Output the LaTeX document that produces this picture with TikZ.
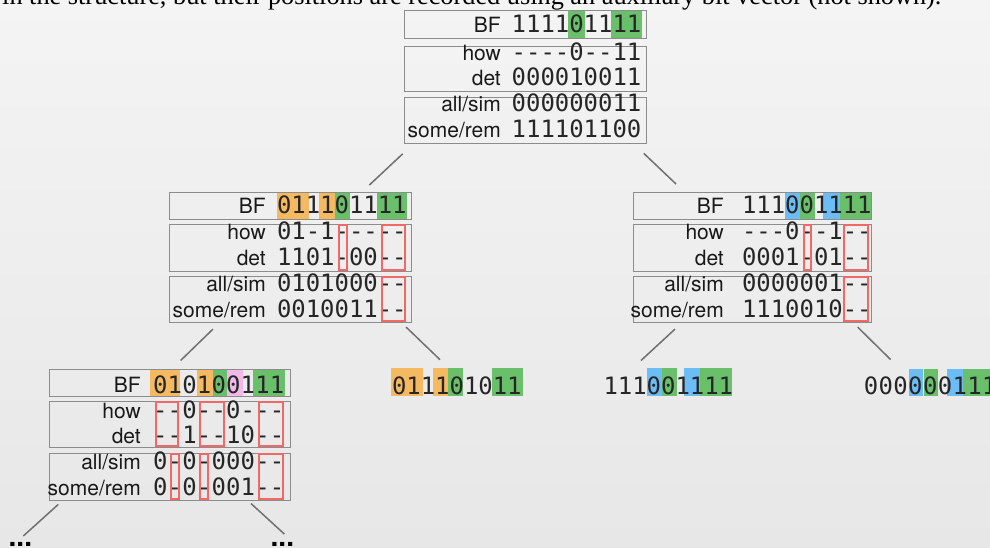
\documentclass[tikz,border=0pt]{standalone}
\usepackage{fontspec}
\setmainfont{TeX Gyre Heros}
\newfontfamily\monofont{DejaVu Sans Mono}
\newfontfamily\captionserif{Liberation Serif}
\usetikzlibrary{calc}

\definecolor{bgtop}{HTML}{F4F4F4}
\definecolor{bgbot}{HTML}{E7E7E7}
\definecolor{boxgray}{HTML}{8C8C8C}
\definecolor{conngray}{HTML}{707070}
\definecolor{hlgreen}{HTML}{6ABF6A}
\definecolor{hlorange}{HTML}{F5B961}
\definecolor{hlblue}{HTML}{6CBCF5}
\definecolor{hlpink}{HTML}{F2B8EA}
\definecolor{hlred}{HTML}{F06868}

\tikzset{
  sect/.style={draw=boxgray, line width=1.1pt, inner sep=0pt, anchor=north west},
  lbl/.style={font=\fontsize{21}{21}\selectfont, inner sep=0pt, anchor=base east, text=black!90},
  bit/.style={font=\monofont\fontsize{23.9}{24}\selectfont, inner sep=0pt, anchor=base, text=black!85},
  conn/.style={draw=conngray, line width=1.5pt},
  redbox/.style={draw=hlred, line width=2pt},
  dots/.style={font=\bfseries\fontsize{28}{28}\selectfont, inner sep=0pt, anchor=base west},
}

% one row of bits: name, left x, cell width, baseline, comma list of characters
\newcommand\bitrow[5]{%
  \foreach \ch [count=\i from 0] in {#5}{%
    \node[bit] (#1-\i) at ({#2+(\i+0.5)*#3},#4) {\ch};}}
% a framed section: name, left x, top y, width, height
\newcommand\sect[5]{\node[sect, minimum width=#4pt, minimum height=#5pt] (#1) at (#2,#3) {};}
% coloured cell background: colour, x1, y1, x2, y2
\newcommand\hl[5]{\fill[#1] (#2,#3) rectangle (#4,#5);}
% red frame round a group of cells: x1, y1, x2, y2
\newcommand\rb[4]{\draw[redbox] ({#1+1},{#2+1}) rectangle ({#3-1},{#4-1});}

\begin{document}
\begin{tikzpicture}[x=1pt, y=-1pt]
\useasboundingbox (0,0) rectangle (990,548);
\clip (0,0) rectangle (990,548);
\shade[top color=bgtop, bottom color=bgbot] (0,0) rectangle (990,548);

\node[anchor=base west, inner sep=0pt, font=\captionserif\fontsize{26.3}{27}\selectfont] (caption) at (2,4.5)
  {in the structure, but their positions are recorded using an auxiliary bit vector (not shown).};

% ---------- root ----------
\hl{hlgreen}{568.3}{10}{584.7}{37.7}
\hl{hlgreen}{611}{10}{642.3}{37.7}
\sect{tBF}{404}{10}{242}{27.7}
\sect{tHow}{404}{45.7}{242}{45}
\sect{tAll}{404}{96.7}{242}{46.3}
\node[lbl] (tBFl) at (501,33) {BF};
\node[lbl] (tHowl) at (501,60.5) {how};
\node[lbl] (tDetl) at (501,86) {det};
\node[lbl] (tAlll) at (501,112) {all/sim};
\node[lbl] (tSomel) at (501,138) {some/rem};
\bitrow{tBFb}{511.7}{14.4}{33}{1,1,1,1,0,1,1,1,1}
\bitrow{tHowb}{511.7}{14.4}{60.5}{-,-,-,-,0,-,-,1,1}
\bitrow{tDetb}{511.7}{14.4}{86}{0,0,0,0,1,0,0,1,1}
\bitrow{tAllb}{511.7}{14.4}{112}{0,0,0,0,0,0,0,1,1}
\bitrow{tSomeb}{511.7}{14.4}{138}{1,1,1,1,0,1,1,0,0}

% ---------- left child ----------
\hl{hlorange}{277}{192}{309}{219}
\hl{hlorange}{319}{192}{335}{219}
\hl{hlgreen}{335}{192}{350.3}{219}
\hl{hlgreen}{377}{192}{406.7}{219}
\sect{lBF}{169}{192}{242}{27}
\sect{lHow}{169}{224.3}{242}{46.7}
\sect{lAll}{169}{276}{242}{45.7}
\node[lbl] (lBFl) at (266,213.5) {BF};
\node[lbl] (lHowl) at (266,239) {how};
\node[lbl] (lDetl) at (266,265) {det};
\node[lbl] (lAlll) at (266,291) {all/sim};
\node[lbl] (lSomel) at (266,317) {some/rem};
\bitrow{lBFb}{277}{14.4}{213.5}{0,1,1,1,0,1,1,1,1}
\bitrow{lHowb}{277}{14.4}{239}{0,1,-,1,-,-,-,-,-}
\bitrow{lDetb}{277}{14.4}{265}{1,1,0,1,-,0,0,-,-}
\bitrow{lAllb}{277}{14.4}{291}{0,1,0,1,0,0,0,-,-}
\bitrow{lSomeb}{277}{14.4}{317}{0,0,1,0,0,1,1,-,-}
\rb{337.7}{224.3}{347.7}{271}
\rb{381}{224.3}{405.7}{271}
\rb{381}{276}{405.7}{321.7}

% ---------- right child ----------
\hl{hlblue}{785.3}{192}{800}{219}
\hl{hlgreen}{800}{192}{815}{219}
\hl{hlblue}{823.3}{192}{840}{219}
\hl{hlgreen}{840}{192}{871.7}{219}
\sect{rBF}{633}{192}{238}{27}
\sect{rHow}{633}{224.3}{238}{46.7}
\sect{rAll}{633}{276}{238}{45.7}
\node[lbl] (rBFl) at (724,213.5) {BF};
\node[lbl] (rHowl) at (724,239) {how};
\node[lbl] (rDetl) at (724,265) {det};
\node[lbl] (rAlll) at (724,291) {all/sim};
\node[lbl] (rSomel) at (724,317) {some/rem};
\bitrow{rBFb}{742}{14.4}{213.5}{1,1,1,0,0,1,1,1,1}
\bitrow{rHowb}{742}{14.4}{239}{-,-,-,0,-,-,1,-,-}
\bitrow{rDetb}{742}{14.4}{265}{0,0,0,1,-,0,1,-,-}
\bitrow{rAllb}{742}{14.4}{291}{0,0,0,0,0,0,1,-,-}
\bitrow{rSomeb}{742}{14.4}{317}{1,1,1,0,0,1,0,-,-}
\rb{802.7}{224.3}{811.7}{271}
\rb{843.3}{224.3}{869.3}{271}
\rb{843.3}{276}{869.3}{321.7}

% ---------- grandchild ----------
\hl{hlorange}{150}{369}{180}{395.7}
\hl{hlorange}{196.7}{369}{212.7}{395.7}
\hl{hlgreen}{212.7}{369}{227.3}{395.7}
\hl{hlpink}{227.3}{369}{243.3}{395.7}
\hl{hlgreen}{253.3}{369}{285}{395.7}
\sect{bBF}{49}{369}{241}{26.7}
\sect{bHow}{49}{400.7}{241}{46.6}
\sect{bAll}{49}{452.7}{241}{47.3}
\node[lbl] (bBFl) at (141,392.5) {BF};
\node[lbl] (bHowl) at (141,418) {how};
\node[lbl] (bDetl) at (141,443.5) {det};
\node[lbl] (bAlll) at (141,469.5) {all/sim};
\node[lbl] (bSomel) at (141,495.5) {some/rem};
\bitrow{bBFb}{153}{14.6}{393}{0,1,0,1,0,0,1,1,1}
\bitrow{bHowb}{153}{14.6}{418}{-,-,0,-,-,0,-,-,-}
\bitrow{bDetb}{153}{14.6}{443.5}{-,-,1,-,-,1,0,-,-}
\bitrow{bAllb}{153}{14.6}{469.5}{0,-,0,-,0,0,0,-,-}
\bitrow{bSomeb}{153}{14.6}{495.5}{0,-,0,-,0,0,1,-,-}
\rb{155}{400.7}{179.3}{447.3}
\rb{199.3}{400.7}{225}{447.3}
\rb{258.3}{400.7}{284.3}{447.3}
\rb{170}{452.7}{180}{500}
\rb{199.3}{452.7}{209.3}{500}
\rb{258.3}{452.7}{284.3}{500}

% ---------- leaves ----------
\hl{hlorange}{391}{368.3}{422.7}{396}
\hl{hlorange}{432.7}{368.3}{448.3}{396}
\hl{hlgreen}{448.3}{368.3}{463.3}{396}
\hl{hlgreen}{491.7}{368.3}{522.7}{396}
\bitrow{leafA}{392}{14.4}{394.5}{0,1,1,1,0,1,0,1,1}

\hl{hlblue}{646.7}{368}{661.7}{396}
\hl{hlgreen}{661.7}{368}{676.7}{396}
\hl{hlblue}{684.3}{368}{700}{396}
\hl{hlgreen}{700}{368}{731.7}{396}
\bitrow{leafB}{603.5}{14.4}{394.5}{1,1,1,0,0,1,1,1,1}

\hl{hlblue}{909.3}{369}{923.3}{396}
\hl{hlgreen}{924.3}{369}{938.3}{396}
\hl{hlblue}{946.7}{369}{962.7}{396}
\hl{hlgreen}{962.7}{369}{1000}{396}
\bitrow{leafC}{863.6}{14.8}{394.5}{0,0,0,0,0,0,1,1,1}

\node[dots] (dotsL) at (8.5,546.5) {...};
\node[dots] (dotsR) at (270.5,546.5) {...};

% ---------- tree edges ----------
\draw[conn] ($(tAll.south west)+(-1.3,9.7)$) -- ($(lBF.north east)+(-42.7,-7)$);
\draw[conn] ($(tAll.south east)+(-3.3,9.3)$) -- ($(rBF.north west)+(43,-8)$);
\draw[conn] ($(lAll.south west)+(44,6.3)$) -- ($(bBF.north east)+(-110.5,-8.5)$);
\draw[conn] ($(lAll.south east)+(-6,4.3)$) -- ($(leafA-3.base)+(-2.4,-34.8)$);
\draw[conn] ($(rAll.south west)+(42,6.3)$) -- ($(leafB-2.base)+(1.5,-34)$);
\draw[conn] ($(rAll.south east)+(-14.4,4.3)$) -- ($(leafC-2.base)+(-10.1,-35)$);
\draw[conn] ($(bAll.south west)+(9.3,3.3)$) -- ($(dotsL.base west)+(14.8,-10.5)$);
\draw[conn] ($(bAll.south east)+(-40,2.5)$) -- ($(dotsR.base west)+(13.8,-12.5)$);
\end{tikzpicture}
\end{document}
